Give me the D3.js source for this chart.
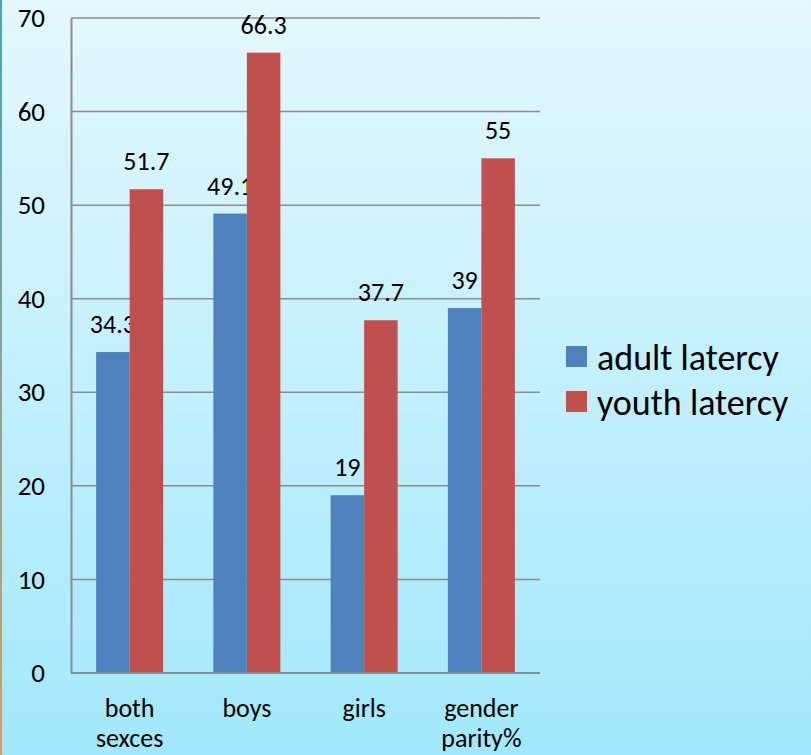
<!DOCTYPE html>
<html>
<head>
<meta charset="utf-8">
<script src="https://cdn.jsdelivr.net/npm/d3@7/dist/d3.min.js"></script>
<style>
  html, body { margin: 0; padding: 0; }
  svg { display: block; }
  text { font-family: Carlito, Lato, "Open Sans", sans-serif; fill: #000; }
</style>
</head>
<body>
<script>
// Literacy rates by group
const categories = [["both", "sexces"], ["boys"], ["girls"], ["gender", "parity%"]];
const seriesNames = ["adult latercy", "youth latercy"];
const adultValues = [34.3, 49.1, 19, 39];
const youthValues = [51.7, 66.3, 37.7, 55];
const yTicks = [0, 10, 20, 30, 40, 50, 60, 70];
const colors = ["#4f81bd", "#c0504d"];

const W = 811, H = 755;
const plot = { left: 71, right: 540, top: 18, bottom: 673 };
const FONT = "Carlito, Lato, 'Open Sans', sans-serif";

const svg = d3.select("body").append("svg").attr("width", W).attr("height", H);

const defs = svg.append("defs");
const bg = defs.append("linearGradient").attr("id", "bg").attr("x1", 0).attr("y1", 0).attr("x2", 0).attr("y2", 1);
bg.append("stop").attr("offset", "0%").attr("stop-color", "#e4f8fe");
bg.append("stop").attr("offset", "100%").attr("stop-color", "#a2e8fc");
const edge = defs.append("linearGradient").attr("id", "edge").attr("x1", 0).attr("y1", 0).attr("x2", 0).attr("y2", 1);
edge.append("stop").attr("offset", "0%").attr("stop-color", "#3fa9c4");
edge.append("stop").attr("offset", "100%").attr("stop-color", "#e29a5a");

svg.append("rect").attr("width", W).attr("height", H).attr("fill", "url(#bg)");
svg.append("rect").attr("x", 0).attr("y", 0).attr("width", 2).attr("height", H).attr("fill", "url(#edge)");

const idx = categories.map((d, i) => i);
const x0 = d3.scaleBand().domain(idx).range([plot.left, plot.right]).padding(0);
const x1 = d3.scaleBand().domain([0, 1]).range([0, x0.bandwidth()]).paddingInner(0).paddingOuter(0.75);
const y = d3.scaleLinear().domain([0, 70]).range([plot.bottom, plot.top]);

// gridlines
svg.append("g").selectAll("line").data(yTicks).join("line")
  .attr("x1", plot.left).attr("x2", plot.right)
  .attr("y1", d => y(d)).attr("y2", d => y(d))
  .attr("stroke", "#8c8c8c").attr("stroke-width", 1.5);

// y axis
const yAxis = svg.append("g").attr("transform", `translate(${plot.left},0)`)
  .call(d3.axisLeft(y).tickValues(yTicks).tickSize(0).tickPadding(26));
yAxis.select(".domain").attr("stroke", "#8c8c8c").attr("stroke-width", 2);
yAxis.selectAll("text").style("font-size", "27px").style("font-family", FONT).attr("fill", "#000");

const series = [adultValues, youthValues];
series.forEach((vals, s) => {
  const g = svg.append("g");
  g.selectAll("rect").data(vals).join("rect")
    .attr("x", (d, i) => x0(i) + x1(s))
    .attr("width", x1.bandwidth())
    .attr("y", d => y(d))
    .attr("height", d => y(0) - y(d))
    .attr("fill", colors[s]);
  g.selectAll("text").data(vals).join("text")
    .attr("x", (d, i) => x0(i) + x1(s) + x1.bandwidth() / 2)
    .attr("y", d => y(d) - 19)
    .attr("text-anchor", "middle")
    .style("font-size", "26px")
    .text(d => d);
});

// baseline over bars
svg.append("line").attr("x1", plot.left).attr("x2", plot.right)
  .attr("y1", y(0)).attr("y2", y(0)).attr("stroke", "#8c8c8c").attr("stroke-width", 2);

// category labels
const cat = svg.append("g").selectAll("text").data(categories).join("text")
  .attr("x", (d, i) => x0(i) + x0.bandwidth() / 2)
  .attr("y", 717)
  .attr("text-anchor", "middle")
  .style("font-size", "26px");
cat.selectAll("tspan").data(d => d).join("tspan")
  .attr("x", function () { return d3.select(this.parentNode).attr("x"); })
  .attr("dy", (d, j) => j === 0 ? 0 : 30)
  .text(d => d);

// legend
const leg = svg.append("g").selectAll("g").data(seriesNames).join("g")
  .attr("transform", (d, i) => `translate(566,${346 + i * 45})`);
leg.append("rect").attr("width", 21).attr("height", 21).attr("fill", (d, i) => colors[i]);
leg.append("text").attr("x", 31).attr("y", 24).style("font-size", "36px").text(d => d);
</script>
</body>
</html>
